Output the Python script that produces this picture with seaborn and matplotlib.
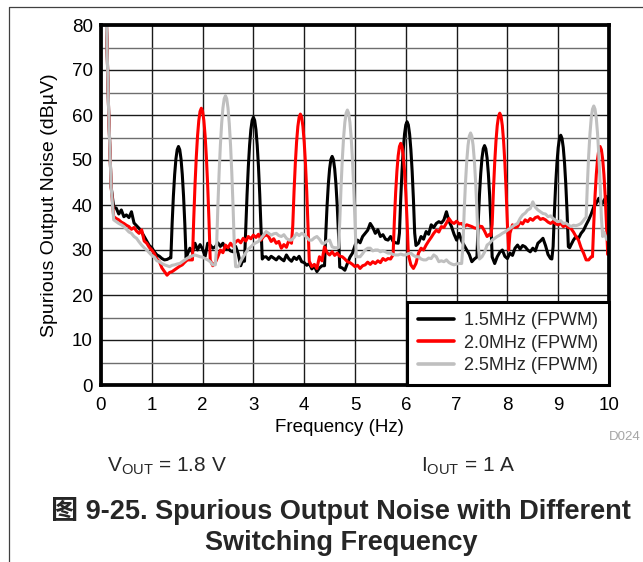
import numpy as np
import pandas as pd
import matplotlib
matplotlib.use("Agg")
import matplotlib.pyplot as plt
from matplotlib.lines import Line2D
import seaborn as sns

# ---------------------------------------------------------------------------
# Spectrum data (dBuV).  Noise floor sampled every 0.05 Hz from 0 to 10 Hz,
# switching-frequency lobes sampled every 0.025 Hz from their start point.
# ---------------------------------------------------------------------------
FLOOR_STEP = 0.05
LOBE_STEP = 0.025

series_names = ["1.5MHz (FPWM)", "2.0MHz (FPWM)", "2.5MHz (FPWM)"]
series_colors = ["#000000", "#ff0000", "#bfbfbf"]

black_floor = [
    100, 96, 84, 61, 44, 39.5, 39.3, 38.0, 38.9, 37.4, 37.8, 37.2, 38.5, 36.0, 35.4, 34.8, 34.0, 33.0, 32.0, 31.0,
    30.5, 29.6, 28.9, 28.6, 28.1, 27.8, 27.9, 28.2, 28.5, 28.6, 28.8, 29.0, 29.2, 29.1, 29.0, 30.4, 29.5, 31.5, 30.0, 31.2,
    30.2, 28.6, 31.5, 31.1, 30.4, 30.7, 31.6, 30.8, 31.5, 30.2, 30.4, 29.8, 29.6, 30.8, 29.2, 26.5, 28.0, 28.0, 28.0, 28.0,
    28.0, 28.0, 28.0, 28.0, 28.4, 28.5, 27.9, 28.6, 28.2, 27.8, 28.5, 28.0, 27.6, 28.9, 28.0, 27.5, 28.4, 27.9, 28.6, 27.4,
    27.2, 26.6, 27.0, 25.8, 26.4, 25.2, 26.0, 26.5, 26.5, 26.5, 26.5, 26.5, 26.5, 26.5, 26.2, 26.0, 25.5, 27.0, 28.4, 29.3,
    31.0, 32.2, 31.6, 33.0, 33.7, 34.4, 35.9, 35.0, 33.7, 34.5, 33.0, 33.4, 32.4, 32.2, 33.0, 31.9, 31.6, 31.5, 31.5, 31.5,
    31.5, 31.5, 31.5, 31.3, 31.0, 31.5, 33.0, 32.4, 34.1, 33.5, 35.6, 35.0, 35.9, 36.3, 36.0, 36.7, 38.5, 36.4, 35.2, 33.5,
    32.2, 33.7, 32.0, 31.0, 30.0, 29.0, 27.4, 28.0, 28.0, 28.0, 28.0, 28.0, 28.0, 28.0, 28.0, 27.0, 28.5, 29.5, 30.0, 28.6,
    28.1, 29.3, 28.8, 30.4, 31.1, 30.2, 31.0, 30.7, 30.0, 29.6, 30.4, 29.8, 31.5, 32.0, 32.6, 31.0, 29.0, 28.1, 28.0, 28.0,
    28.0, 28.0, 28.0, 28.0, 29.5, 31.1, 32.2, 33.0, 32.6, 33.7, 34.4, 35.6, 36.7, 38.0, 39.6, 40.4, 41.5, 40.0, 41.0, 41.9,
    40.5,
]
black_lobe_start = [1.375, 2.825, 4.400, 5.850, 7.400, 8.875]
black_lobes = [
    [28.25, 35.8, 42.0, 46.8, 50.25, 52.3, 53.0, 52.3, 50.25, 46.8, 42.0, 35.8, 28.25],
    [27.5, 34.75, 42.3, 48.5, 53.3, 56.75, 58.8, 59.5, 58.8, 56.75, 53.3, 48.5, 42.3, 34.75, 28.0],
    [26.5, 33.6, 39.8, 44.6, 48.05, 50.1, 50.8, 50.1, 48.05, 44.6, 39.8, 33.6, 26.2],
    [31.5, 33.75, 41.3, 47.5, 52.3, 55.75, 57.8, 58.5, 57.8, 55.75, 52.3, 47.5, 41.3, 33.75, 31.0],
    [28.45, 36.0, 42.2, 47.0, 50.45, 52.5, 53.2, 52.5, 50.45, 47.0, 42.2, 36.0, 28.45],
    [28.0, 30.75, 38.3, 44.5, 49.3, 52.75, 54.8, 55.5, 54.8, 52.75, 49.3, 44.5, 38.3, 30.75, 30.5],
]

red_floor = [
    100, 96, 84, 61, 44, 37.4, 37.0, 36.7, 36.2, 35.9, 35.5, 35.2, 34.6, 35.0, 34.2, 33.7, 34.5, 32.0, 31.5, 30.6,
    30.0, 29.2, 28.0, 27.4, 26.0, 25.2, 24.4, 25.0, 25.2, 25.6, 26.0, 26.4, 26.7, 27.3, 27.8, 27.8, 27.8, 27.8, 27.8, 27.8,
    27.8, 27.8, 27.8, 27.8, 26.5, 27.2, 28.5, 30.0, 29.4, 31.1, 30.5, 31.5, 30.8, 31.8, 32.2, 31.6, 32.6, 32.0, 33.0, 32.5,
    33.3, 32.8, 33.5, 32.2, 33.0, 33.4, 33.0, 31.9, 32.5, 31.5, 31.9, 30.4, 31.2, 30.6, 32.2, 31.5, 31.5, 31.5, 31.5, 31.5,
    31.5, 31.5, 27.5, 26.3, 26.8, 25.9, 28.5, 27.6, 30.7, 29.4, 28.9, 29.6, 28.8, 29.3, 28.6, 28.5, 28.0, 27.4, 27.2, 26.8,
    26.3, 26.6, 25.9, 26.5, 26.7, 27.3, 26.8, 27.4, 27.0, 27.6, 27.2, 28.1, 27.7, 28.1, 28.0, 28.5, 28.5, 28.5, 28.5, 28.5,
    28.5, 28.5, 26.7, 25.9, 27.0, 29.3, 30.4, 30.0, 31.1, 32.0, 32.8, 33.7, 34.4, 34.0, 35.2, 35.0, 36.0, 37.0, 36.2, 35.9,
    36.4, 35.8, 35.9, 35.2, 35.6, 35.4, 35.2, 34.9, 34.8, 35.3, 35.2, 34.2, 33.0, 33.5, 33.2, 33.2, 33.2, 33.2, 33.2, 33.2,
    33.2, 33.7, 35.6, 35.0, 35.2, 36.2, 35.8, 36.7, 36.3, 37.0, 36.6, 37.2, 37.4, 36.8, 37.0, 36.7, 36.2, 35.9, 36.3, 35.8,
    35.6, 35.9, 35.2, 35.5, 35.0, 34.8, 34.0, 33.0, 32.2, 30.5, 29.3, 27.8, 27.8, 28.5, 28.5, 28.5, 28.5, 28.5, 28.5, 29.0,
    30.0,
]
red_lobe_start = [1.800, 3.750, 5.750, 7.675, 9.675]
red_lobes = [
    [27.8, 36.75, 44.3, 50.5, 55.3, 58.75, 60.8, 61.5, 60.8, 58.75, 55.3, 50.5, 44.3, 36.75, 27.8],
    [31.5, 35.45, 43.0, 49.2, 54.0, 57.45, 59.5, 60.2, 59.5, 57.45, 54.0, 49.2, 43.0, 35.45, 27.5],
    [28.95, 36.5, 42.7, 47.5, 50.95, 53.0, 53.7, 53.0, 50.95, 47.5, 42.7, 36.5, 28.95],
    [33.2, 35.65, 43.2, 49.4, 54.2, 57.65, 59.7, 60.4, 59.7, 57.65, 54.2, 49.4, 43.2, 35.65, 30.0],
    [28.5, 35.8, 42.0, 46.8, 50.25, 52.3, 53.0, 52.3, 50.25, 46.8, 42.0, 35.8, 29.0],
]

gray_floor = [
    100, 96, 84, 61, 44, 36.7, 36.3, 35.9, 35.6, 35.2, 34.6, 34.0, 33.7, 33.0, 32.6, 31.8, 31.1, 30.5, 30.0, 29.4,
    28.8, 28.4, 27.6, 27.4, 27.0, 26.7, 26.5, 26.3, 26.6, 26.7, 26.9, 27.0, 27.4, 27.8, 28.2, 28.5, 28.7, 28.9, 28.7, 28.5,
    28.4, 28.1, 27.8, 27.4, 26.7, 26.7, 26.7, 26.7, 26.7, 26.7, 26.7, 26.7, 26.7, 26.3, 26.3, 27.5, 28.5, 29.4, 30.2, 30.7,
    31.3, 31.6, 31.9, 32.6, 33.3, 34.1, 33.7, 33.3, 33.6, 33.7, 33.2, 33.0, 33.4, 32.6, 32.2, 32.2, 32.8, 33.7, 33.2, 33.7,
    33.4, 32.8, 32.2, 32.2, 32.7, 33.0, 32.4, 31.5, 31.5, 32.0, 32.2, 30.7, 30.5, 30.5, 30.5, 30.5, 30.5, 30.5, 30.5, 30.5,
    28.5, 28.5, 28.5, 29.2, 30.0, 30.4, 30.4, 29.8, 30.0, 30.0, 29.6, 29.8, 29.6, 29.3, 29.3, 29.0, 28.9, 28.9, 29.1, 28.9,
    28.9, 29.2, 29.3, 28.8, 28.5, 28.5, 28.0, 27.8, 27.8, 28.2, 28.1, 28.9, 28.5, 27.4, 27.6, 27.4, 27.8, 27.2, 26.9, 26.7,
    26.9, 27.0, 27.0, 27.0, 27.0, 27.0, 27.0, 27.0, 27.0, 28.0, 28.5, 29.5, 31.1, 31.5, 32.2, 32.6, 33.0, 33.3, 33.7, 34.0,
    34.4, 34.8, 35.2, 35.6, 35.9, 37.0, 37.8, 38.2, 38.9, 39.2, 40.7, 39.5, 38.9, 38.5, 38.1, 38.0, 37.4, 37.6, 37.0, 36.6,
    36.3, 36.5, 35.9, 36.0, 35.6, 35.2, 35.5, 35.4, 35.6, 35.9, 36.6, 37.4, 37.0, 37.0, 37.0, 37.0, 37.0, 37.0, 34.0, 32.5,
    32.0,
]
gray_lobe_start = [2.250, 4.675, 7.100, 9.525]
gray_lobes = [
    [26.7, 30.6, 39.55, 47.1, 53.3, 58.1, 61.55, 63.6, 64.3, 63.6, 61.55, 58.1, 53.3, 47.1, 39.55, 30.6, 26.3],
    [30.5, 36.35, 43.9, 50.1, 54.9, 58.35, 60.4, 61.1, 60.4, 58.35, 54.9, 50.1, 43.9, 36.35, 28.5],
    [27.0, 31.25, 38.8, 45.0, 49.8, 53.25, 55.3, 56.0, 55.3, 53.25, 49.8, 45.0, 38.8, 31.25, 28.0],
    [37.0, 37.25, 44.8, 51.0, 55.8, 59.25, 61.3, 62.0, 61.3, 59.25, 55.8, 51.0, 44.8, 37.25, 33.0],
]

x_ticks = list(range(0, 11))
y_ticks = list(range(0, 81, 10))


def build_trace(floor, lobe_starts, lobes):
    """Merge the noise floor with the lobes, replacing floor samples under each lobe."""
    floor = np.asarray(floor, dtype=float)
    hz = np.round(np.arange(len(floor)) * FLOOR_STEP, 4)
    keep = np.ones(len(hz), dtype=bool)
    lobe_hz, lobe_db = [], []
    for start, vals in zip(lobe_starts, lobes):
        pos = np.round(start + LOBE_STEP * np.arange(len(vals)), 4)
        keep &= ~((hz >= pos[0] - 1e-6) & (hz <= pos[-1] + 1e-6))
        lobe_hz.append(pos)
        lobe_db.append(np.asarray(vals, dtype=float))
    all_hz = np.concatenate([hz[keep]] + lobe_hz)
    all_db = np.concatenate([floor[keep]] + lobe_db)
    order = np.argsort(all_hz, kind="stable")
    return all_hz[order], all_db[order]


frames = []
for name, (fl, st, lb) in zip(series_names, [(black_floor, black_lobe_start, black_lobes),
                                             (red_floor, red_lobe_start, red_lobes),
                                             (gray_floor, gray_lobe_start, gray_lobes)]):
    h, d = build_trace(fl, st, lb)
    frames.append(pd.DataFrame({"hz": h, "db": d, "series": name}))
df = pd.concat(frames, ignore_index=True)

# ---------------------------------------------------------------------------
# Figure
# ---------------------------------------------------------------------------
sns.set_theme(style="white")
plt.rcParams["font.family"] = ["Liberation Sans", "Noto Sans CJK SC", "DejaVu Sans"]
plt.rcParams["mathtext.fontset"] = "custom"
plt.rcParams["mathtext.rm"] = "Liberation Sans"
plt.rcParams["mathtext.it"] = "Liberation Sans:italic"
plt.rcParams["mathtext.bf"] = "Liberation Sans:bold"

W, H = 643, 562
fig = plt.figure(figsize=(W / 100, H / 100), dpi=100)
ax = fig.add_axes([101 / W, 1 - 385 / H, 508 / W, 360 / H])

sns.lineplot(data=df, x="hz", y="db", hue="series", hue_order=series_names,
             palette=series_colors, estimator=None, sort=False,
             linewidth=2.2, ax=ax, legend=True)

ax.set_xlim(0, 10)
ax.set_ylim(0, 80)
ax.set_xticks(x_ticks)
ax.set_yticks(y_ticks)
ax.set_yticks(np.arange(5, 80, 10), minor=True)
ax.grid(which="major", axis="both", color="#1a1a1a", linewidth=1.0)
ax.grid(which="minor", axis="y", color="#6e6e6e", linewidth=1.0)
ax.set_axisbelow(True)
ax.tick_params(axis="both", which="both", length=0, labelsize=13.5, colors="#000000")
ax.tick_params(axis="x", pad=9.0)
ax.tick_params(axis="y", pad=6.0)
for sp in ax.spines.values():
    sp.set_visible(True)
    sp.set_color("#000000")
    sp.set_linewidth(2.7)

ax.set_xlabel("Frequency (Hz)", fontsize=13.5, color="#000000")
ax.set_ylabel("Spurious Output Noise (dB\u00b5V)", fontsize=14, color="#000000")
ax.xaxis.set_label_coords(0.47, -0.117)
ax.xaxis.label.set_verticalalignment("center")
ax.yaxis.set_label_coords(-0.102, 0.5)
ax.yaxis.label.set_verticalalignment("center")

handles, labels = ax.get_legend_handles_labels()
leg = ax.legend(handles, labels, loc="lower right", borderaxespad=0.0, fontsize=13.0,
                frameon=True, fancybox=False, edgecolor="#000000", framealpha=1.0,
                handlelength=2.0, handletextpad=0.55, labelspacing=0.3, borderpad=0.6)
leg.get_frame().set_linewidth(2.2)
for ln in leg.get_lines():
    ln.set_linewidth(2.6)

# outer page frame
fig.add_artist(Line2D([9 / W, 9 / W, 1.0], [0.0, 1 - 7 / H, 1 - 7 / H],
                      transform=fig.transFigure, color="#404040", linewidth=0.9))

fig.text(641 / W, 1 - 437 / H, "D024", ha="right", va="center", fontsize=9.5, color="#a6a6a6")
fig.text(107 / W, 1 - 466 / H, r"V$_{\rm OUT}$ = 1.8 V", ha="left", va="center", fontsize=15)
fig.text(421 / W, 1 - 466 / H, r"I$_{\rm OUT}$ = 1 A", ha="left", va="center", fontsize=15)
fig.text(341 / W, 1 - 511 / H, "图 9-25. Spurious Output Noise with Different",
         ha="center", va="center", fontsize=19.5, fontweight="bold")
fig.text(341 / W, 1 - 543 / H, "Switching Frequency",
         ha="center", va="center", fontsize=19.5, fontweight="bold")

fig.savefig("out.png", dpi=100)
